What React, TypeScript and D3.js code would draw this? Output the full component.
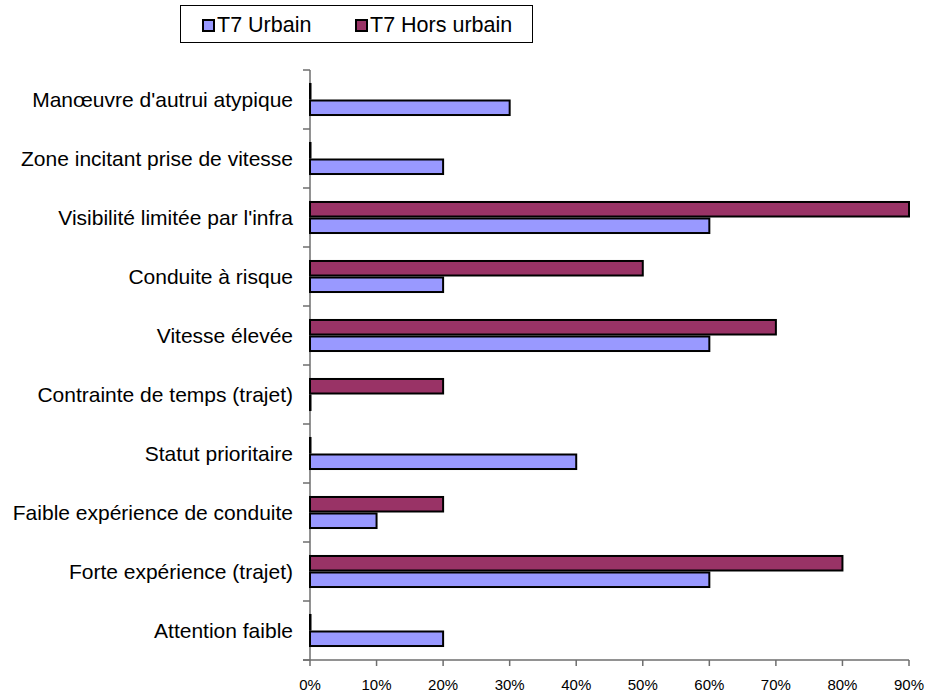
import { useEffect, useRef } from 'react';
import * as d3 from 'd3';

// categories top to bottom
const categories = [
  "Manœuvre d'autrui atypique",
  'Zone incitant prise de vitesse',
  "Visibilité limitée par l'infra",
  'Conduite à risque',
  'Vitesse élevée',
  'Contrainte de temps (trajet)',
  'Statut prioritaire',
  'Faible expérience de conduite',
  'Forte expérience (trajet)',
  'Attention faible',
];

const seriesNames = ['T7 Hors urbain', 'T7 Urbain'];
const horsUrbain = [0, 0, 0.9, 0.5, 0.7, 0.2, 0, 0.2, 0.8, 0];
const urbain = [0.3, 0.2, 0.6, 0.2, 0.6, 0, 0.4, 0.1, 0.6, 0.2];
const xTicks = [0, 0.1, 0.2, 0.3, 0.4, 0.5, 0.6, 0.7, 0.8, 0.9];

const colors: Record<string, string> = {
  'T7 Urbain': '#9999ff',
  'T7 Hors urbain': '#993366',
};

const App = () => {
  const svgRef = useRef<SVGSVGElement>(null);

  useEffect(() => {
    const width = 925;
    const height = 692;
    const left = 310;
    const right = 909;
    const top = 70;
    const bottom = 660;
    const font = 'Liberation Sans, Arial, sans-serif';

    const svg = d3.select(svgRef.current);
    svg.selectAll('*').remove();
    svg.attr('width', width).attr('height', height);

    const x = d3.scaleLinear().domain([0, 0.9]).range([left, right]);
    const y = d3.scaleBand().domain(categories).range([top, bottom]).paddingInner(0.44).paddingOuter(0.22);
    const ySub = d3.scaleBand().domain(seriesNames).range([0, y.bandwidth()]);

    // axes
    const axisColor = '#6e6e6e';
    svg.append('line')
      .attr('x1', left).attr('x2', left).attr('y1', top).attr('y2', bottom)
      .attr('stroke', axisColor).attr('stroke-width', 1.5);
    svg.append('line')
      .attr('x1', left - 7).attr('x2', right).attr('y1', bottom).attr('y2', bottom)
      .attr('stroke', axisColor).attr('stroke-width', 1.5);

    const step = (bottom - top) / categories.length;
    d3.range(categories.length + 1).forEach((i) => {
      svg.append('line')
        .attr('x1', left - 7).attr('x2', left)
        .attr('y1', top + i * step).attr('y2', top + i * step)
        .attr('stroke', axisColor).attr('stroke-width', 1.5);
    });

    xTicks.forEach((t) => {
      svg.append('line')
        .attr('x1', x(t)).attr('x2', x(t)).attr('y1', bottom).attr('y2', bottom + 6)
        .attr('stroke', axisColor).attr('stroke-width', 1.5);
      svg.append('text')
        .attr('x', x(t)).attr('y', 690)
        .attr('text-anchor', 'middle')
        .attr('font-family', font).attr('font-size', 15)
        .text(d3.format('.0%')(t));
    });

    // category labels
    categories.forEach((c, i) => {
      svg.append('text')
        .attr('x', 293)
        .attr('y', top + i * step + step / 2 + 7.5)
        .attr('text-anchor', 'end')
        .attr('font-family', font).attr('font-size', 21)
        .text(c);
    });

    // bars
    const rows = categories.map((c, i) => ({
      category: c,
      values: [
        { name: 'T7 Hors urbain', v: horsUrbain[i] },
        { name: 'T7 Urbain', v: urbain[i] },
      ],
    }));

    rows.forEach((r) => {
      svg.append('g')
        .attr('transform', `translate(0,${y(r.category)})`)
        .selectAll('rect')
        .data(r.values)
        .enter()
        .append('rect')
        .attr('x', x(0))
        .attr('y', (d) => (ySub(d.name) as number) + 1)
        .attr('width', (d) => Math.max(x(d.v) - x(0), 0.5))
        .attr('height', ySub.bandwidth() - 2)
        .attr('fill', (d) => colors[d.name])
        .attr('stroke', '#000')
        .attr('stroke-width', 2);
    });

    // legend
    svg.append('rect')
      .attr('x', 180.5).attr('y', 5.5).attr('width', 352).attr('height', 37)
      .attr('fill', '#fff').attr('stroke', '#000').attr('stroke-width', 1);

    const legendItems = [
      { name: 'T7 Urbain', x: 202 },
      { name: 'T7 Hors urbain', x: 355 },
    ];
    legendItems.forEach((l) => {
      svg.append('rect')
        .attr('x', l.x + 1).attr('y', 20).attr('width', 11).attr('height', 11)
        .attr('fill', colors[l.name]).attr('stroke', '#000').attr('stroke-width', 2);
      svg.append('text')
        .attr('x', l.x + 15).attr('y', 32)
        .attr('font-family', font).attr('font-size', 21.5)
        .text(l.name);
    });
  }, []);

  return (
    <div style={{ position: 'absolute', left: 0, top: 0 }}>
      <svg ref={svgRef} style={{ display: 'block' }}></svg>
    </div>
  );
};

export default App;
